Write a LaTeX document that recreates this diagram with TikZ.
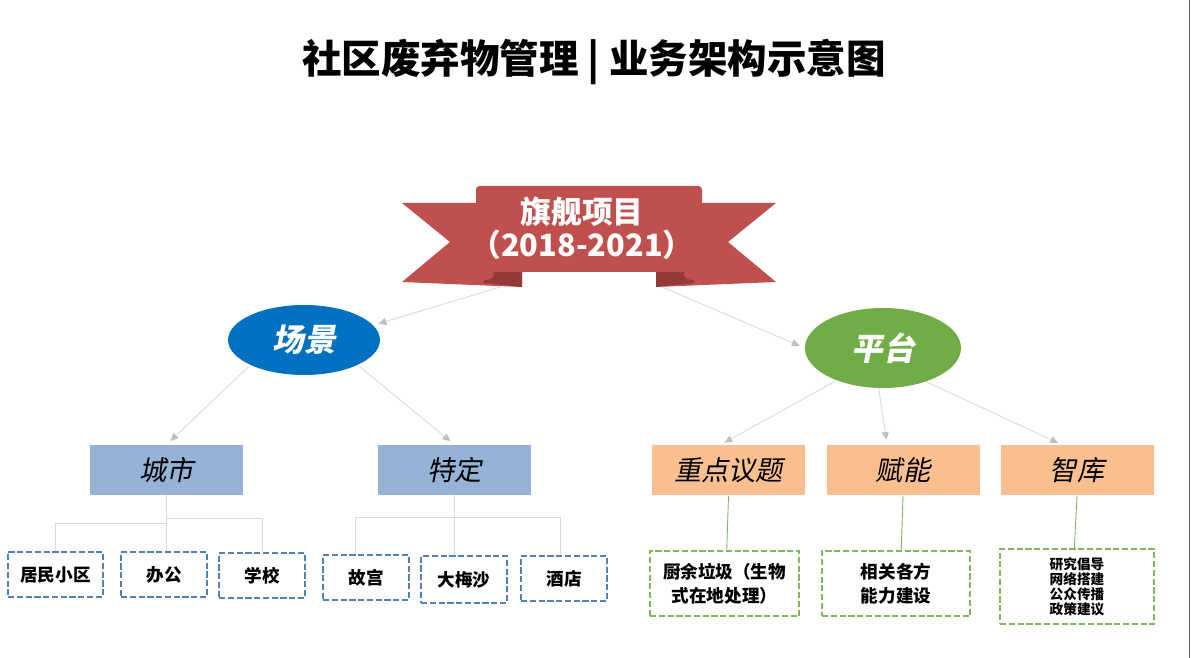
\documentclass[tikz,border=0pt]{standalone}
\usepackage{fontspec}
\setmainfont{Noto Sans CJK SC}
\newfontfamily\slantcjk[FakeSlant=0.2]{Noto Sans CJK SC}
\usetikzlibrary{shapes.geometric,arrows.meta}

\definecolor{flagred}{HTML}{C0504D}
\definecolor{flagdark}{HTML}{943B39}
\definecolor{scenecol}{HTML}{0070C0}
\definecolor{platcol}{HTML}{70AD47}
\definecolor{citycol}{HTML}{95B3D7}
\definecolor{topiccol}{HTML}{F9BF8F}
\definecolor{bluedash}{HTML}{4F81BD}
\definecolor{greendash}{HTML}{7DB85A}
\definecolor{linkgray}{HTML}{DADADA}
\definecolor{tipgray}{HTML}{BFBFBF}

\newcommand*{\px}{0.02cm}
\newcommand*{\picw}{1191}
\newcommand*{\pich}{658}

\begin{document}
\begin{tikzpicture}
[
	x=\px, y=-\px,
	hub/.style={ellipse,inner sep=0pt,text=white,font=\slantcjk\bfseries\fontsize{18}{20}\selectfont},
	topicbox/.style={minimum width=153*\px,minimum height=50*\px,inner sep=0pt,font=\slantcjk\fontsize{15.5}{18}\selectfont},
	leafbox/.style={draw=bluedash,line width=1.1pt,dash pattern=on 3.5pt off 1.5pt,minimum width=86*\px,minimum height=45*\px,inner sep=0pt,font=\bfseries\fontsize{10}{12}\selectfont},
	greenbox/.style={draw=greendash,line width=1.1pt,dash pattern=on 3.5pt off 1.5pt,minimum width=149*\px,minimum height=65*\px,inner sep=0pt,align=center,font=\bfseries\fontsize{10}{13.5}\selectfont},
	link/.style={draw=linkgray,line width=0.5pt,shorten >=3pt,-{Triangle[length=4.5pt,width=4pt,color=tipgray]}},
	tree/.style={draw=black!15,line width=0.5pt},
	greenlink/.style={draw=greendash,line width=0.5pt}
]

	% page
	\useasboundingbox[fill=white] (0,0) rectangle (\picw,\pich);
	\draw[black!60,line width=1pt] (1189.5,0) -- (1189.5,\pich);

	% title
	\node[font=\bfseries\fontsize{22.5}{26}\selectfont] (title) at (594,62) {社区废弃物管理 | 业务架构示意图};

	% banner
	\foreach \s in {-1,1} {
		\fill[flagred] ({589+\s*187},203) -- ({589+\s*67},203) -- ({589+\s*67},287) -- ({589+\s*187},282) -- ({589+\s*139},242) -- cycle;
		\fill[flagdark] ({589+\s*67},268) -- ({589+\s*105},268) -- ({589+\s*105},283) -- ({589+\s*67},287) -- cycle;
	}
	\fill[flagred,rounded corners=2pt] (476,186) rectangle (702,272);
	\fill[flagred] (485,274) ellipse [x radius=9*\px,y radius=6*\px];
	\fill[flagred] (693,274) ellipse [x radius=9*\px,y radius=6*\px];
	\node[text=white,align=center,font=\bfseries\fontsize{17.5}{19}\selectfont] (flag) at (582,228) {旗舰项目\\（2018-2021）};
	\coordinate (flagL) at (500,287);
	\coordinate (flagR) at (662,287);

	% level one
	\node[hub,fill=scenecol,minimum width=152*\px,minimum height=70*\px] (scene) at (304,340) {场景};
	\node[hub,fill=platcol,minimum width=156*\px,minimum height=80*\px] (plat) at (883,348) {平台};

	\draw[link] (flagL) -- (scene.12);
	\draw[link] (flagR) -- (plat.west);

	% level two
	\node[topicbox,fill=citycol] (city) at (166.5,470) {城市};
	\node[topicbox,fill=citycol] (spec) at (454.5,470) {特定};
	\node[topicbox,fill=topiccol] (topic) at (728.5,470.5) {重点议题};
	\node[topicbox,fill=topiccol] (enable) at (903,470.5) {赋能};
	\node[topicbox,fill=topiccol] (think) at (1077,470.5) {智库};

	\draw[link] (scene.205) -- (city.north);
	\draw[link] (scene.-25) -- (spec.north);
	\draw[link] (plat.215) -- ([xshift=-5pt]topic.north);
	\draw[link] (plat.264) -- ([xshift=-9pt]enable.north);
	\draw[link] (plat.-38) -- ([xshift=-8pt]think.north);

	% level three
	\node[leafbox,minimum width=95*\px] (resid) at (55.5,574.5) {居民小区};
	\node[leafbox] (office) at (164,574.5) {办公};
	\node[leafbox] (school) at (262,575.5) {学校};
	\node[leafbox] (palace) at (366,577.5) {故宫};
	\node[leafbox,minimum height=47*\px] (beach) at (464,579.5) {大梅沙};
	\node[leafbox] (hotel) at (564,578.5) {酒店};

	\node[greenbox] (kitchen) at (724.5,583.5) {厨余垃圾（生物\\式在地处理）};
	\node[greenbox,minimum width=148*\px] (capab) at (896,583.5) {相关各方\\能力建设};
	\node[greenbox,minimum width=154*\px,minimum height=75*\px,font=\bfseries\fontsize{7.8}{8.6}\selectfont] (advice) at (1077,586.5) {研究倡导\\网络搭建\\公众传播\\政策建议};

	\draw[tree] (city.south) -- (city.south |- office.north);
	\draw[tree] (city.south) ++(0,28) -| (resid.north);
	\draw[tree] (city.south) ++(0,23) -| (school.north);
	\draw[tree] (spec.south) -- (spec.south |- beach.north);
	\draw[tree] (spec.south) ++(0,22) -| ([xshift=-6pt]palace.north);
	\draw[tree] (spec.south) ++(0,22) -| ([xshift=-2pt]hotel.north);

	\draw[greenlink] (topic.south) -- ([xshift=-1pt]topic.south |- kitchen.north);
	\draw[greenlink] (enable.south) -- ([xshift=-1pt]enable.south |- capab.north);
	\draw[greenlink] (think.south) -- ([xshift=-1.5pt]think.south |- advice.north);

\end{tikzpicture}
\end{document}
